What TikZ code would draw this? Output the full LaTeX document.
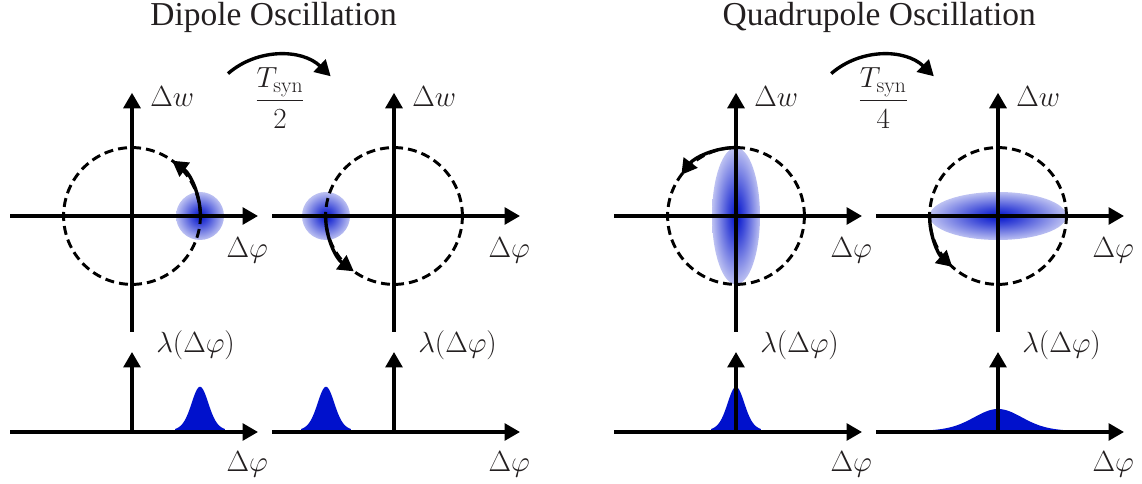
\documentclass[tikz,border=0pt]{standalone}
\usepackage{amsmath}
\usepackage{fontspec}
\newfontfamily\titlefont{Liberation Serif}
\usetikzlibrary{arrows.meta}

\definecolor{bunchblue}{RGB}{0,17,204}
\colorlet{bunchmid}{bunchblue!75}
\colorlet{bunchrim}{bunchblue!26}
\definecolor{inkgray}{RGB}{35,31,32}
\pgfdeclareradialshading{bunch}{\pgfpointorigin}{%
  color(0bp)=(bunchblue); color(9bp)=(bunchmid); color(25bp)=(bunchrim); color(50bp)=(bunchrim)}

\begin{document}
\begin{tikzpicture}[
    declare function={bump(\u)=0.8*exp(-(\u*\u)/0.08)+0.2*exp(-(\u*\u)/0.32);},
    axis/.style={line width=2.4pt, -{Triangle[length=11pt,width=12pt]}},
    orbit/.style={line width=2.1pt, dash pattern=on 6.4pt off 3.6pt},
    motion/.style={line width=2.4pt, -{Triangle[length=11pt,width=12pt]}},
    lbl/.style={inner sep=0pt, text=inkgray, font=\fontsize{22}{26}\selectfont},
    headline/.style={inner sep=0pt, text=inkgray, font=\titlefont\fontsize{23.8}{28}\selectfont}
  ]
  \useasboundingbox (0,0) rectangle (28.55,12.1);

  % Titles
  \node[headline, anchor=base] (dipole) at (6.84,11.45) {Dipole Oscillation};
  \node[headline, anchor=base] (quadrupole) at (21.98,11.45) {Quadrupole Oscillation};

  % Bunches in phase space
  \shade[shading=bunch] (5.0,6.7) circle (0.6);
  \shade[shading=bunch] (8.15,6.7) circle (0.6);
  \shade[shading=bunch] (18.4,6.7) ellipse [x radius=0.6, y radius=1.71];
  \shade[shading=bunch] (24.95,6.7) ellipse [x radius=1.71, y radius=0.6];

  % Line densities
  \fill[bunchblue] (4.38,1.3) -- plot[domain=-0.62:0.62, samples=61] ({5.0+\x},{1.3+1.13*bump(\x)}) -- (5.62,1.3) -- cycle;
  \fill[bunchblue] (7.53,1.3) -- plot[domain=-0.62:0.62, samples=61] ({8.15+\x},{1.3+1.13*bump(\x)}) -- (8.77,1.3) -- cycle;
  \fill[bunchblue] (17.78,1.3) -- plot[domain=-0.62:0.62, samples=61] ({18.4+\x},{1.3+1.13*bump(\x)}) -- (19.02,1.3) -- cycle;
  \fill[bunchblue] (23.24,1.3) -- plot[domain=-1.71:1.71, samples=81] ({24.95+\x},{1.3+0.575*bump(\x/2.85)}) -- (26.66,1.3) -- cycle;

  % Axes, orbits and labels
  \foreach \px/\nm in {3.3/one, 9.85/two, 18.4/three, 24.95/four} {
    \draw[orbit] (\px,6.7) circle (1.71);
    \draw[axis] (\px-3.05,6.7) -- (\px+3.15,6.7);
    \draw[axis] (\px,3.8) -- (\px,9.78);
    \draw[axis] (\px-3.05,1.3) -- (\px+3.15,1.3);
    \draw[axis] (\px,1.3) -- (\px,3.3);
    \node[lbl, anchor=base west] (dw\nm) at (\px+0.45,9.43) {$\Delta w$};
    \node[lbl, anchor=base west] (dphi\nm) at (\px+2.36,5.65) {$\Delta\varphi$};
    \node[lbl, anchor=base west] (lam\nm) at (\px+0.6,3.28) {$\lambda(\Delta\varphi)$};
    \node[lbl, anchor=base west] (dphilow\nm) at (\px+2.36,0.32) {$\Delta\varphi$};
  }

  % Motion along the orbit
  \draw[motion] (5.01,6.7) arc (0:54:1.71);
  \draw[motion] (8.14,6.7) arc (180:234:1.71);
  \draw[motion] (18.4,8.41) arc (90:143:1.71);
  \draw[motion] (23.24,6.7) arc (180:228:1.71);

  % Time steps
  \draw[motion] (5.70,10.26) arc (131:46:1.9);
  \node[lbl] (half) at (7.0,9.65) {$\dfrac{T_\mathrm{syn}}{2}$};
  \draw[motion] (20.78,10.26) arc (131:46:1.9);
  \node[lbl] (quarter) at (22.08,9.65) {$\dfrac{T_\mathrm{syn}}{4}$};

\end{tikzpicture}
\end{document}
